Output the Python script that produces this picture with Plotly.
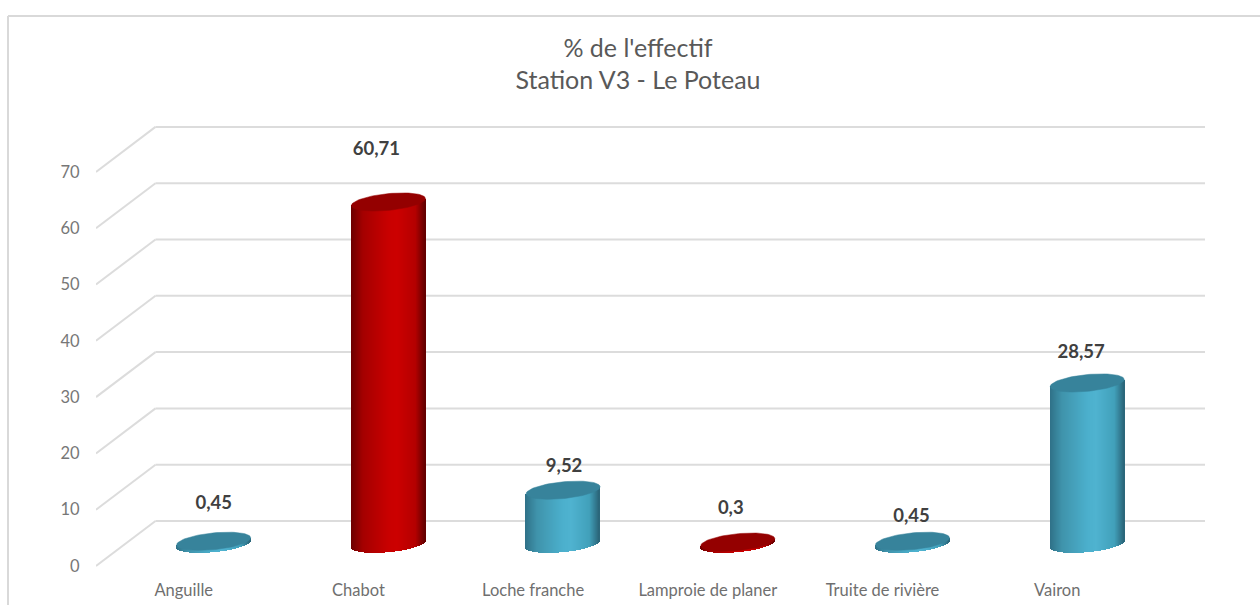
import numpy as np
import plotly.graph_objects as go

# ---- data ----
categories = ["Anguille", "Chabot", "Loche franche", "Lamproie de planer", "Truite de rivière", "Vairon"]
values = [0.45, 60.71, 9.52, 0.3, 0.45, 28.57]
value_labels = ["0,45", "60,71", "9,52", "0,3", "0,45", "28,57"]
highlighted = [False, True, False, True, False, False]
y_ticks = [0, 10, 20, 30, 40, 50, 60, 70]

title_lines = ["% de l'effectif", "Station V3 - Le Poteau"]

# ---- geometry of the page (pixels) ----
W, H = 1260, 605
PL, PR, PT, PB = 96, 1205, 100, 572
X0, DX = 213.7, 174.7          # pixel of first category, pixels per category
Y0, DY = 543.8, 5.63           # pixel of value 0 on the bar plane, pixels per unit
BACK, FRONT = 4.05, -3.94      # depth offset of back wall / front edge in value units
X_BACK = 155.5
HALF_W, TILT, MINOR = 37.0, 3.5, 8.4   # cylinder half width and ellipse shape (px)

# label offsets (px) relative to the top of each bar
label_dx = [0, -12, 1, -7, -1, -6]
label_dy = [37, 52, 23, 33, 24, 30]

xr = [(PL - X0) / DX, (PR - X0) / DX]
yr = [(Y0 - PB) / DY, (Y0 - PT) / DY]
xd = lambda px: (px - X0) / DX
px2paper = lambda px: (px - PL) / (PR - PL)
py2paper = lambda py: (PB - py) / (PB - PT)

BLUE = {"stops": ["#2f7187", "#3f93ab", "#4bafcc", "#4fb3d0", "#41a0ba", "#2a6478"], "top": "#37839b"}
RED = {"stops": ["#6c0000", "#a40000", "#c80000", "#cc0000", "#b40000", "#620000"], "top": "#940000"}
STOP_POS = [0.0, 0.16, 0.5, 0.62, 0.87, 1.0]


def hex2rgb(h):
    return np.array([int(h[i:i + 2], 16) for i in (1, 3, 5)], float)


def ramp(stops, t):
    rgb = np.array([hex2rgb(s) for s in stops])
    out = [float(np.interp(t, STOP_POS, rgb[:, k])) for k in range(3)]
    return "rgb(%d,%d,%d)" % tuple(int(round(c)) for c in out)


# ---- cylinder bodies: one library bar per vertical strip ----
bx, bbase, bh, bcol, bw = [], [], [], [], []
offs = np.arange(-HALF_W + 0.5, HALF_W, 1.0)
for i, v in enumerate(values):
    pal = RED if highlighted[i] else BLUE
    for o in offs:
        u = o / HALF_W
        arc = MINOR * np.sqrt(max(0.0, 1 - u * u))
        low = (TILT * u - arc) / DY           # lower edge of bottom ellipse
        up = v + TILT * u / DY                # centre line of the top ellipse
        bx.append(i + o / DX)
        bbase.append(low)
        bh.append(up - low)
        bcol.append(ramp(pal["stops"], (u + 1) / 2))
        bw.append(1.35 / DX)

fig = go.Figure()
fig.add_trace(go.Bar(x=bx, y=bh, base=bbase, width=bw, marker=dict(color=bcol, line=dict(width=0)),
                     showlegend=False, hoverinfo="skip"))

# ---- cylinder tops ----
t = np.linspace(0, 2 * np.pi, 90)
for i, v in enumerate(values):
    pal = RED if highlighted[i] else BLUE
    ex = i + HALF_W * np.cos(t) / DX
    ey = v + (TILT * np.cos(t) + MINOR * np.sin(t)) / DY
    fig.add_trace(go.Scatter(x=ex, y=ey, mode="lines", fill="toself", fillcolor=pal["top"],
                             line=dict(color=pal["top"], width=0.5), showlegend=False, hoverinfo="skip"))

# ---- value labels ----
fig.add_trace(go.Scatter(
    x=[i + label_dx[i] / DX for i in range(len(values))],
    y=[values[i] + label_dy[i] / DY for i in range(len(values))],
    mode="text", text=value_labels, textposition="middle center",
    textfont=dict(family="Lato", size=18.5, color="#404040", weight="bold"),
    showlegend=False, hoverinfo="skip"))

# ---- gridlines on the back wall and the side wall ----
GRID = dict(color="#dcdcdc", width=2)
shapes = []
for tick in y_ticks:
    shapes.append(dict(type="line", xref="x", yref="y", layer="below", x0=xd(X_BACK), x1=xd(PR),
                       y0=tick + BACK, y1=tick + BACK, line=GRID))
    shapes.append(dict(type="line", xref="x", yref="y", layer="below", x0=xd(PL), x1=xd(X_BACK),
                       y0=tick + FRONT, y1=tick + BACK, line=GRID))
# ---- chart frame ----
FRAME = dict(color="#d9d9d9", width=2)
shapes.append(dict(type="line", xref="paper", yref="paper", layer="below", x0=px2paper(8), x1=px2paper(W),
                   y0=py2paper(16), y1=py2paper(16), line=FRAME))
shapes.append(dict(type="line", xref="paper", yref="paper", layer="below", x0=px2paper(8), x1=px2paper(8),
                   y0=py2paper(16), y1=py2paper(H), line=FRAME))

fig.update_layout(
    width=W, height=H, autosize=False,
    margin=dict(l=PL, r=W - PR, t=PT, b=H - PB, pad=0, autoexpand=False),
    paper_bgcolor="white", plot_bgcolor="rgba(0,0,0,0)",
    barmode="overlay", bargap=0, showlegend=False,
    font=dict(family="Lato", color="#7f7f7f"),
    shapes=shapes,
    title=dict(text="<br>".join(title_lines), x=638 / W, xanchor="center", y=1 - 56.5 / H, yanchor="top",
               font=dict(family="Lato", size=25, color="#595959")),
    xaxis=dict(range=xr, tickmode="array", tickvals=[i - 30 / DX for i in range(len(categories))],
               ticktext=categories, showgrid=False, zeroline=False, showline=False, automargin=False,
               ticks="outside", ticklen=3, tickcolor="rgba(0,0,0,0)",
               tickfont=dict(family="Lato", size=16.5, color="#6f6f6f")),
    yaxis=dict(range=yr, tickmode="array", tickvals=[v + FRONT for v in y_ticks],
               ticktext=[str(v) for v in y_ticks], showgrid=False, zeroline=False, showline=False,
               automargin=False, ticks="outside", ticklen=12, tickcolor="rgba(0,0,0,0)",
               tickfont=dict(family="Lato", size=16.5, color="#777777")),
)

fig.write_html("out.html", config={"displayModeBar": False},
               post_script="document.body.style.margin='0';document.body.style.overflow='hidden';")
